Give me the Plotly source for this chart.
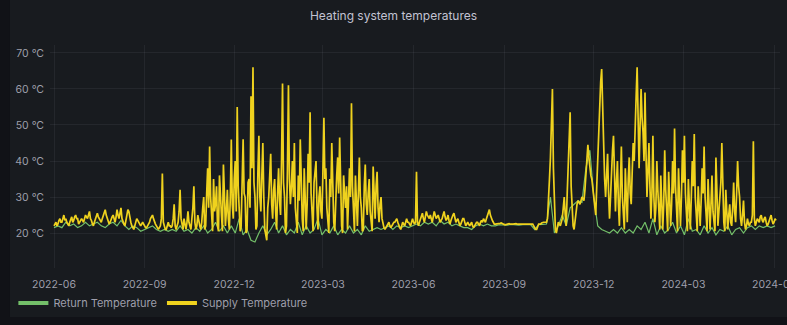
import pandas as pd
import plotly.graph_objects as go

title_text = "Heating system temperatures"
series_names = ["Return Temperature", "Supply Temperature"]
tick_dates = ["2022-06-01", "2022-09-01", "2022-12-01", "2023-03-01", "2023-06-01",
              "2023-09-01", "2023-12-01", "2024-03-01", "2024-06-01"]
tick_labels = ["2022-06", "2022-09", "2022-12", "2023-03", "2023-06",
               "2023-09", "2023-12", "2024-03", "2024-06"]
y_ticks = [20, 30, 40, 50, 60, 70]
y_tick_labels = ["20 °C", "30 °C", "40 °C", "50 °C", "60 °C", "70 °C"]

supply_start = "2022-06-01"
supply_step = "1D"
supply_temp = [
    22, 22.5, 23, 22, 22.5, 23.5, 24, 23, 23, 24, 25, 23.5, 24, 23, 22.5, 22, 23, 24, 24.5, 23, 23.5, 24.5, 25, 24, 24, 22.5, 23, 23.5, 24, 23.5,
    23, 24, 25, 24.5, 24, 25, 26, 24, 23.5, 22.5, 22, 23, 24, 25, 25.5, 24.5, 24, 23.5, 23, 24, 25, 25.5, 26.5, 25, 24, 23, 22.5, 23, 24, 24.5,
    25, 24, 23, 24.5, 26.5, 25, 24, 25.5, 27, 24, 23, 22.5, 22, 23.5, 25, 26.5, 26, 24, 23, 22, 21.5, 21, 22, 23, 24, 23.5, 23, 22.5, 22, 22.5,
    23, 22.5, 22, 21.5, 21.5, 22, 22.5, 23, 24, 24.5, 25, 24, 23, 22.5, 22, 21.5, 21, 21.5, 22, 24, 36.5, 23, 22, 21, 21, 22, 23, 22, 22, 21.5,
    22, 24, 28, 22, 21, 22, 23, 26, 32, 24, 22, 21, 24, 22, 21, 23, 26, 23, 22, 21, 24, 27, 33, 23, 21, 22, 25, 23, 22, 21,
    23, 27, 30, 21, 22, 31, 38, 27, 44, 30, 24, 20.5, 35, 26, 28, 33, 22, 20.5, 36, 29, 25, 20.5, 39, 31, 22, 26, 32, 24, 21, 30,
    46, 28, 24, 35, 40, 26, 55, 33, 28, 20.5, 22, 36, 46, 31, 30, 20, 21, 34, 35, 27, 58, 38, 66, 34, 30, 21, 22, 37, 47, 30,
    26, 36, 45, 30, 21, 19.5, 18, 27, 30, 36, 42, 28, 24, 32, 35, 26, 21, 31, 38, 29, 25, 40, 61.5, 34, 30, 20, 22, 38, 61, 35,
    28, 33, 40, 30, 45, 27, 22, 20, 36, 29, 46, 32, 24, 20.5, 38, 30, 21, 28, 42, 34, 53.5, 31, 25, 20.5, 34, 37, 40, 27, 21, 30,
    33, 26, 24, 37, 52, 35, 38, 27, 22, 20, 35, 30, 45, 33, 23, 20.5, 30, 36, 41, 31, 46.5, 29, 22, 20, 36, 31, 27, 33, 21, 29,
    38, 30, 56, 33, 24, 20.5, 36, 29, 22, 31, 41, 30, 27, 20.5, 21, 33, 39, 28, 25, 31, 35, 26, 22, 20.5, 38.5, 30, 24, 33, 37, 27,
    23, 28, 30, 24, 22, 21.5, 21, 21.5, 22, 22.5, 23, 22, 21.5, 22, 22.5, 23, 23, 23.5, 24, 23, 22, 21.5, 21, 22, 23, 22.5, 22, 23, 24, 23,
    23, 22.5, 22, 23, 24, 23, 22.5, 23, 37, 23, 22, 23, 24, 25, 25.5, 24, 23, 24.5, 26, 25, 24.5, 24, 25, 24, 23, 24.5, 26, 25, 24, 24.5,
    25, 24, 23, 23.5, 24, 25, 26, 24.5, 23.5, 24, 25, 23.5, 22.5, 23.5, 24.5, 25, 25.5, 24, 23, 23.5, 24, 23, 22, 22.5, 23.5, 24, 24, 23, 22, 22.5,
    23, 22.5, 22, 22.5, 23, 22, 21.5, 22, 22.5, 23, 23, 22.5, 22, 23, 23.5, 23, 24, 23.5, 23, 24, 25, 26, 26.5, 25, 24, 23.5, 23, 22.5, 22.5, 22.5,
    22.5, 22.6, 22.5, 22.7, 22.8, 22.6, 22.5, 22.4, 22.3, 22.4, 22.5, 22.5, 22.6, 22.5, 22.4, 22.5, 22.5, 22.6, 22.7, 22.6, 22.5, 22.5, 22.4, 22.5, 22.6, 22.5, 22.5, 22.5, 22.5, 22.4,
    22.5, 22.4, 22.4, 22.5, 22.6, 22.5, 22.5, 22, 21.5, 21, 21, 21.8, 22.5, 22.5, 22.5, 22.8, 23, 23, 23, 23, 23, 24, 28, 35, 41, 52, 60, 38, 25, 21,
    20, 22, 23, 22.5, 22, 23, 24, 27, 30, 25, 22, 31, 40, 47, 53.5, 33, 25, 22, 21, 24, 27, 28, 29, 28.5, 28, 29, 30, 29.5, 29, 32,
    36, 40, 44.5, 41, 38, 36, 35, 32, 30, 27, 25, 33, 40, 49, 58, 62, 65.5, 50, 45, 35, 30, 36, 42, 31, 24, 30, 38, 43, 47, 35,
    26, 34, 40, 28, 22, 33, 44, 30, 25, 21, 38, 30, 23, 35, 41, 31, 28, 37, 45, 40, 52, 58, 66, 45, 38, 50, 60, 52, 48, 40,
    59, 42, 30, 37, 45, 33, 24, 31, 47, 30, 23, 27, 40, 32, 26, 21, 36, 29, 21, 28, 43, 32, 23, 20.5, 37, 30, 22, 28, 40, 31,
    49, 33, 25, 20.5, 38, 29, 22, 30, 43, 34, 47, 31, 24, 20.5, 35, 28, 21, 30, 40, 33, 47.5, 30, 25, 20.5, 33, 27, 22, 29, 38, 31,
    44, 30, 23, 20.5, 35, 27, 21, 28, 36, 26, 24, 20.5, 41, 29, 22, 26, 30, 34, 45, 28, 23, 20.5, 32, 26, 21, 25, 28, 23, 22, 27,
    34, 26, 23, 31, 40, 33, 30, 24, 22, 25, 29, 23, 21, 22, 24, 22.5, 22, 23, 23, 25, 45.5, 24, 22, 23, 24, 23.5, 23, 24.5, 25, 23.5,
    23, 24, 24.5, 23, 22, 22.5, 23.5, 24.5, 25, 23.5, 22.5, 23, 24, 23.5,
]

return_start = "2022-06-01"
return_step = "4D"
return_temp = [
    21.5, 22, 21.5, 23, 22, 22.5, 21.5, 22, 23, 22, 22.5, 23, 22, 21.5, 22.5,
    23, 22, 23.5, 22, 21, 22, 21.5, 20.5, 21, 21.5, 22, 21, 20.5, 21, 20.5,
    21, 20.5, 22, 20.5, 21, 20, 21.5, 20.5, 22, 20, 21, 23, 20.5, 22, 20,
    22, 20, 24, 19.5, 21, 18, 17.5, 20, 22, 19.5, 21, 23, 20, 22, 19.5,
    21, 20, 23, 19.5, 22, 20, 21, 24, 19.5, 21, 20, 22, 19.5, 21, 20,
    22, 20, 21, 19.5, 22, 20.5, 21, 21.5, 21, 21.5, 22, 21, 22, 21.5, 22,
    21.5, 22, 22.5, 22, 23, 22.5, 23, 22, 23.5, 22.5, 23, 22, 22.5, 22, 21.5,
    21.5, 21, 22, 22.5, 22, 22.5, 22, 22, 22.3, 22.2, 22.2, 22.4, 22.2, 22.2, 22.3,
    22.2, 22.3, 21, 22.3, 22.4, 22.5, 30, 20, 22, 25, 22, 27, 28, 29, 28.5,
    38, 43, 30, 22, 21, 20.5, 20, 21, 20, 21.5, 20, 21, 20, 22, 21,
    23, 20, 24, 19.5, 22, 20, 21, 23, 20, 22, 19.5, 24, 20.5, 21, 19.5,
    22, 20, 21.5, 19.5, 21, 20.5, 22, 19.5, 21, 21.5, 20, 21.5, 22, 21, 22,
    21.5, 22, 21.5, 22,
]

supply_x = pd.date_range(supply_start, periods=len(supply_temp), freq=supply_step)
return_x = pd.date_range(return_start, periods=len(return_temp), freq=return_step)

GREEN = "#73BF69"
YELLOW = "#EFD21E"
PANEL = "#181b1f"
OUTER = "#111217"
TEXT = "rgba(204,204,220,0.75)"
GRID = "rgba(204,204,220,0.07)"

fig = go.Figure()
fig.add_trace(go.Scatter(x=return_x, y=return_temp, mode="lines", name=series_names[0],
                         line=dict(color=GREEN, width=1.2), legendgroup="r", showlegend=False))
fig.add_trace(go.Scatter(x=supply_x, y=supply_temp, mode="lines", name=series_names[1],
                         line=dict(color=YELLOW, width=1.7), legendgroup="s", showlegend=False))
# legend entries (thicker swatches)
fig.add_trace(go.Scatter(x=[None], y=[None], mode="lines", name=series_names[0],
                         line=dict(color=GREEN, width=4), legendgroup="r"))
fig.add_trace(go.Scatter(x=[None], y=[None], mode="lines", name=series_names[1],
                         line=dict(color=YELLOW, width=4), legendgroup="s"))

fig.update_layout(
    width=787, height=325,
    margin=dict(l=50, r=7, t=45, b=57, autoexpand=False),
    paper_bgcolor=OUTER,
    plot_bgcolor="rgba(0,0,0,0)",
    font=dict(family="Inter, Roboto, sans-serif", size=10.5, color=TEXT),
    title=dict(text=title_text, x=0.5, xref="container", xanchor="center",
               y=1 - 16 / 325, yref="container", yanchor="middle",
               font=dict(size=12, color="rgba(204,204,220,0.95)")),
    showlegend=True,
    legend=dict(orientation="h", xref="container", yref="container",
                x=0.017, y=1 - 303 / 325, xanchor="left", yanchor="middle",
                bgcolor="rgba(0,0,0,0)", font=dict(size=11, color=TEXT),
                itemwidth=30, tracegroupgap=0),
    shapes=[dict(type="rect", xref="paper", yref="paper", layer="below",
                 x0=-0.0548, x1=1.02, y0=-0.2197, y1=1.25,
                 fillcolor=PANEL, line=dict(width=0))],
    xaxis=dict(range=["2022-05-27 22:30", "2024-06-07 01:00"],
               tickvals=tick_dates, ticktext=tick_labels,
               showgrid=True, gridcolor=GRID, gridwidth=1, automargin=False,
               ticklabeloverflow="allow",
               zeroline=False, showline=False, ticks="", ticklabelstandoff=8),
    yaxis=dict(range=[10.3, 72.2], tickvals=y_ticks, ticktext=y_tick_labels,
               showgrid=True, gridcolor=GRID, gridwidth=1, automargin=False,
               zeroline=False, showline=False, ticks="", ticklabelstandoff=5),
)

fig.write_html("out.html", config={"displayModeBar": False},
               post_script="document.body.style.margin='0';document.body.style.overflow='hidden';")
